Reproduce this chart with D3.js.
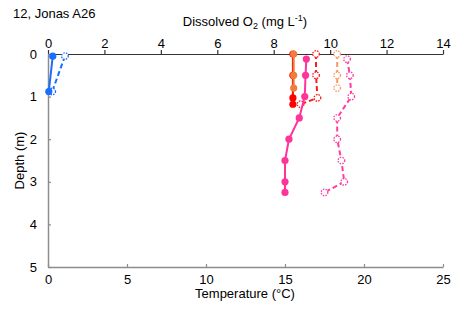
<!DOCTYPE html>
<html lang="en">
<head>
<meta charset="UTF-8">
<title>12, Jonas A26</title>
<style>
body { margin: 0; background: white; }
text { font-family: 'Liberation Sans', Arial, sans-serif; font-size: 13px; fill: #000; }
.axis-title { font-size: 13px; }
</style>
</head>
<body>
<svg width="456" height="316"></svg>
<script src="https://d3js.org/d3.v7.min.js"></script>
<script>

// solid lines / filled dots: temperature (bottom axis)
// dashed lines / open dots: dissolved oxygen (top axis)
var tempTicks = [0, 5, 10, 15, 20, 25];
var doTicks = [0, 2, 4, 6, 8, 10, 12, 14];
var depthTicks = [0, 1, 2, 3, 4, 5];

var blueDepth = [0.05, 0.88];
var blueTemp = [0.3, 0.05];
var blueDO = [0.6, 0.15];

var redDepth = [0, 0.5, 1.03, 1.18];
var redTemp = [15.5, 15.5, 15.5, 15.5];
var redDO = [9.5, 9.5, 9.55, 8.95];

var orangeDepth = [0, 0.5, 0.8];
var orangeTemp = [15.55, 15.55, 15.55];
var orangeDO = [10.25, 10.25, 10.25];

var pinkDepth = [0.12, 0.5, 1.0, 1.5, 2.0, 2.5, 3.0, 3.25];
var pinkTemp = [16.35, 16.3, 16.25, 15.9, 15.25, 15.0, 15.0, 15.0];
var pinkDO = [10.6, 10.7, 10.75, 10.25, 10.25, 10.4, 10.5, 9.8];

var series = [
    {name: 'blue', color: '#1a6dff', light: '#1a6dff', depth: blueDepth, temp: blueTemp, oxy: blueDO},
    {name: 'red', color: '#ff0000', light: '#ff1a1a', depth: redDepth, temp: redTemp, oxy: redDO},
    {name: 'orange', color: '#f07d3a', light: '#f59a5e', depth: orangeDepth, temp: orangeTemp, oxy: orangeDO},
    {name: 'pink', color: '#ff3399', light: '#ff3da0', depth: pinkDepth, temp: pinkTemp, oxy: pinkDO}
];

var svg = d3.select("svg");
var plotLeft = 48, plotRight = 443, plotTop = 54, plotBottom = 267;

var x = d3.scaleLinear().domain([0, 25]).range([plotLeft, plotRight]);
var xo = d3.scaleLinear().domain([0, 14]).range([plotLeft, plotRight]);
var y = d3.scaleLinear().domain([0, 5]).range([plotTop, plotBottom]);

// axes
var bottomAxis = svg.append("g")
    .attr("transform", "translate(0," + plotBottom + ")")
    .call(d3.axisBottom(x).tickValues(tempTicks).tickSizeInner(-3).tickSizeOuter(0).tickPadding(8));
var topAxis = svg.append("g")
    .attr("transform", "translate(0," + plotTop + ")")
    .call(d3.axisTop(xo).tickValues(doTicks).tickSizeInner(4).tickSizeOuter(0).tickPadding(2));
var leftAxis = svg.append("g")
    .attr("transform", "translate(" + plotLeft + ",0)")
    .call(d3.axisLeft(y).tickValues(depthTicks).tickFormat(d3.format("d"))
        .tickSizeInner(-3).tickSizeOuter(0).tickPadding(11));

[bottomAxis, leftAxis].forEach(function(a) {
    a.select(".domain").attr("stroke", "#8c8c8c").attr("stroke-width", 1.5);
    a.selectAll(".tick line").attr("stroke", "#8c8c8c").attr("stroke-width", 1.2);
});
topAxis.select(".domain").attr("stroke", "#333").attr("stroke-width", 1.2);
topAxis.selectAll(".tick line").attr("stroke", "#333").attr("stroke-width", 1.2);
svg.selectAll(".tick text").style("font-family", "'Liberation Sans', Arial, sans-serif").style("font-size", "13px").attr("fill", "#000");

// titles
svg.append("text").attr("x", 13).attr("y", 18).text("12, Jonas A26");

var dt = svg.append("text").attr("class", "axis-title").attr("x", 245).attr("y", 26).attr("text-anchor", "middle");
dt.append("tspan").text("Dissolved O");
dt.append("tspan").attr("dy", 3).style("font-size", "9px").text("2");
dt.append("tspan").attr("dy", -3).text(" (mg L");
dt.append("tspan").attr("dy", -5).style("font-size", "9px").text("-1");
dt.append("tspan").attr("dy", 5).text(")");

svg.append("text").attr("class", "axis-title").attr("x", 245).attr("y", 298)
    .attr("text-anchor", "middle").text("Temperature (°C)");

svg.append("text").attr("class", "axis-title")
    .attr("transform", "translate(24," + y(2.5) + ") rotate(-90)")
    .attr("text-anchor", "middle").text("Depth (m)");

// data
var lineTemp = d3.line().x(function(d) { return x(d.t); }).y(function(d) { return y(d.d); });
var lineDO = d3.line().x(function(d) { return xo(d.o); }).y(function(d) { return y(d.d); });

var plot = svg.append("g");

series.forEach(function(s) {
    var pts = s.depth.map(function(d, i) { return {d: d, t: s.temp[i], o: s.oxy[i]}; });

    plot.append("path").datum(pts).attr("d", lineDO)
        .attr("fill", "none").attr("stroke", s.light).attr("stroke-width", 2)
        .attr("stroke-dasharray", "5,3");
    plot.selectAll(".od-" + s.name).data(pts).enter().append("circle")
        .attr("cx", function(d) { return xo(d.o); })
        .attr("cy", function(d) { return y(d.d); })
        .attr("r", 3.3)
        .attr("fill", "white").attr("stroke", s.light).attr("stroke-width", 1.3)
        .attr("stroke-dasharray", "1.5,1.2");

    plot.append("path").datum(pts).attr("d", lineTemp)
        .attr("fill", "none").attr("stroke", s.color).attr("stroke-width", 2);
    plot.selectAll(".ft-" + s.name).data(pts).enter().append("circle")
        .attr("cx", function(d) { return x(d.t); })
        .attr("cy", function(d) { return y(d.d); })
        .attr("r", 3.6)
        .attr("fill", s.color);
});

</script>
</body>
</html>
